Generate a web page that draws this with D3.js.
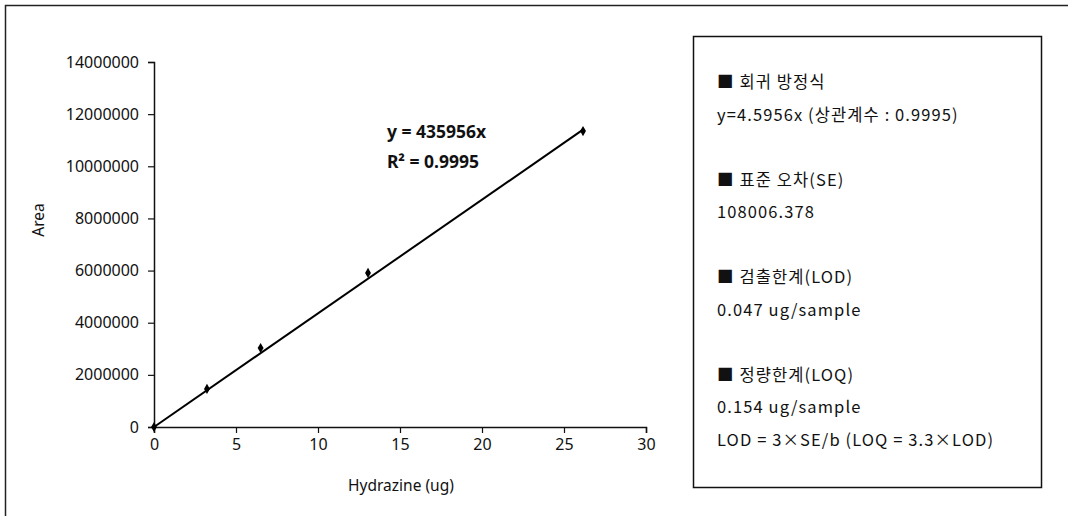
<!DOCTYPE html>
<html>
<head>
<meta charset="utf-8">
<script src="https://cdn.jsdelivr.net/npm/d3@7"></script>
<style>
  body { margin: 0; background: #fff; }
  svg text { fill: #111; }
</style>
</head>
<body>
<div id="chart"></div>
<script>
//calibration points
const amounts = [0, 3.23, 6.5, 13.05, 26.16];
const areas = [0, 1460000, 3030000, 5910000, 11350000];
const slope = 435956;

const xTicks = [0, 5, 10, 15, 20, 25, 30];
const yTicks = [0, 2000000, 4000000, 6000000, 8000000, 10000000, 12000000, 14000000];

//text box on the right, gap = how many line steps down from the previous line
const boxLines = [
    { text: "■ 회귀 방정식", gap: 0 },
    { text: "y=4.5956x (상관계수 : 0.9995)", gap: 1 },
    { text: "■ 표준 오차(SE)", gap: 2 },
    { text: "108006.378", gap: 1 },
    { text: "■ 검출한계(LOD)", gap: 2 },
    { text: "0.047 ug/sample", gap: 1 },
    { text: "■ 정량한계(LOQ)", gap: 2 },
    { text: "0.154 ug/sample", gap: 1 },
    { text: "LOD = 3×SE/b (LOQ = 3.3×LOD)", gap: 1 }
];

const width = 1068;
const height = 516;
const margin = { top: 62, left: 154 };
const innerwidth = 492;
const innerheight = 365;

const svg = d3.select("#chart")
    .append("svg")
    .attr("width", width)
    .attr("height", height);

//outer frame (only top and left edges show in the scan)
svg.append("path")
    .attr("d", "M5.5,516 L5.5,5.5 L1068,5.5")
    .attr("fill", "none")
    .attr("stroke", "#222")
    .attr("stroke-width", 1.5);

const g = svg.append("g")
    .attr("transform", "translate(" + margin.left + "," + margin.top + ")");

const x = d3.scaleLinear().domain([0, 30]).range([0, innerwidth]);
const y = d3.scaleLinear().domain([0, 14000000]).range([innerheight, 0]);

const font = "'Noto Sans', sans-serif";

g.append("g")
    .attr("transform", "translate(0," + innerheight + ")")
    .call(d3.axisBottom(x).tickValues(xTicks).tickSize(6).tickPadding(6).tickFormat(d3.format("d")))
    .call(function (a) {
        a.select(".domain").attr("stroke", "#111").attr("stroke-width", 1.5);
        a.selectAll("line").attr("stroke", "#111").attr("stroke-width", 1.2);
        a.selectAll("text").style("font-family", font).style("font-size", "16px");
    });

g.append("g")
    .call(d3.axisLeft(y).tickValues(yTicks).tickSize(6).tickPadding(9).tickFormat(d3.format("d")))
    .call(function (a) {
        a.select(".domain").attr("stroke", "#111").attr("stroke-width", 1.5);
        a.selectAll("line").attr("stroke", "#111").attr("stroke-width", 1.2);
        a.selectAll("text").style("font-family", font).style("font-size", "16px");
    });

//axis titles
g.append("text")
    .attr("x", innerwidth / 2 + 1)
    .attr("y", innerheight + 64)
    .attr("text-anchor", "middle")
    .style("font-family", font)
    .style("font-size", "15.5px")
    .text("Hydrazine (ug)");

g.append("text")
    .attr("transform", "rotate(-90)")
    .attr("x", -158)
    .attr("y", -110)
    .attr("text-anchor", "middle")
    .style("font-family", font)
    .style("font-size", "15.5px")
    .text("Area");

//trend line through origin up to the last point
const xMax = d3.max(amounts);
g.append("line")
    .attr("x1", x(0))
    .attr("y1", y(0))
    .attr("x2", x(xMax))
    .attr("y2", y(slope * xMax))
    .attr("stroke", "#000")
    .attr("stroke-width", 2);

//markers
g.selectAll(".pt")
    .data(amounts)
    .enter()
    .append("path")
    .attr("class", "pt")
    .attr("d", d3.symbol().type(d3.symbolDiamond).size(30))
    .attr("transform", function (d, i) { return "translate(" + x(d) + "," + y(areas[i]) + ")"; })
    .attr("fill", "#000");

//equation labels
g.append("text")
    .attr("x", x(14.2))
    .attr("y", y(11085000))
    .style("font-family", font)
    .style("font-weight", "bold")
    .style("font-size", "17.5px")
    .text("y = 435956x");

g.append("text")
    .attr("x", x(14.2))
    .attr("y", y(9934000))
    .style("font-family", font)
    .style("font-weight", "bold")
    .style("font-size", "17.5px")
    .text("R² = 0.9995");

//info box
svg.append("rect")
    .attr("x", 693.5)
    .attr("y", 36.5)
    .attr("width", 348)
    .attr("height", 451)
    .attr("fill", "none")
    .attr("stroke", "#111")
    .attr("stroke-width", 1.5);

let ty = 88;
boxLines.forEach(function (d) {
    ty += d.gap * 32.5;
    svg.append("text")
        .attr("x", 717)
        .attr("y", ty)
        .style("font-family", "'Noto Sans CJK KR', sans-serif")
        .style("font-size", "16.5px")
        .style("letter-spacing", "1.1px")
        .text(d.text);
});
</script>
</body>
</html>
